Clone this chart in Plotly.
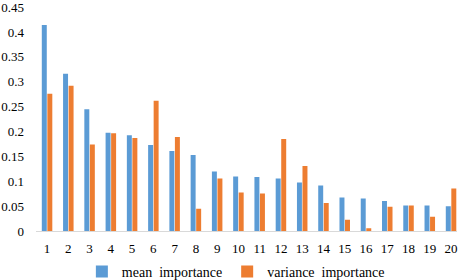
import plotly.graph_objects as go

categories = [str(i) for i in range(1, 21)]
mean_importance = [0.414, 0.316, 0.245, 0.198, 0.193, 0.173, 0.161, 0.153, 0.120, 0.110,
                   0.109, 0.106, 0.098, 0.092, 0.068, 0.066, 0.061, 0.052, 0.052, 0.050]
variance_importance = [0.276, 0.292, 0.174, 0.197, 0.187, 0.262, 0.189, 0.045, 0.106, 0.078,
                       0.076, 0.185, 0.131, 0.057, 0.023, 0.006, 0.049, 0.052, 0.029, 0.086]
y_ticks = [0, 0.05, 0.1, 0.15, 0.2, 0.25, 0.3, 0.35, 0.4, 0.45]
y_tick_labels = ["0", "0.05", "0.1", "0.15", "0.2", "0.25", "0.3", "0.35", "0.4", "0.45"]

FONT = "Times New Roman, Liberation Serif, DejaVu Serif, serif"

fig = go.Figure()
fig.add_trace(go.Bar(x=categories, y=mean_importance, name="mean\u00a0 importance",
                     marker=dict(color="#5B9BD5", line=dict(width=0))))
fig.add_trace(go.Bar(x=categories, y=variance_importance, name="variance\u00a0 importance",
                     marker=dict(color="#ED7D31", line=dict(width=0))))

fig.update_layout(
    width=458, height=280,
    margin=dict(l=36, r=0, t=5, b=46),
    plot_bgcolor="white", paper_bgcolor="white",
    barmode="group", bargap=0.48, bargroupgap=0.1,
    font=dict(family=FONT, size=13, color="#000000"),
    showlegend=True,
    legend=dict(orientation="h", xref="container", yref="container",
                x=0.515, y=0.029, xanchor="center", yanchor="middle",
                font=dict(family=FONT, size=14, color="#000000"),
                itemwidth=30, tracegroupgap=0),
    xaxis=dict(type="category", range=[-0.52, 19.28], showgrid=False,
               showline=True, linecolor="#d9d9d9", linewidth=1,
               ticks="", ticklabelstandoff=5, tickfont=dict(family=FONT, size=13)),
    yaxis=dict(range=[0, 0.4502], tickvals=y_ticks, ticktext=y_tick_labels,
               showgrid=False, zeroline=False, showline=False, ticks="",
               ticklabeloverflow="allow",
               ticklabelstandoff=11, tickfont=dict(family=FONT, size=13)),
)

fig.write_html("out.html", config={"displayModeBar": False},
               post_script="document.body.style.margin='0';document.body.style.overflow='hidden';")
